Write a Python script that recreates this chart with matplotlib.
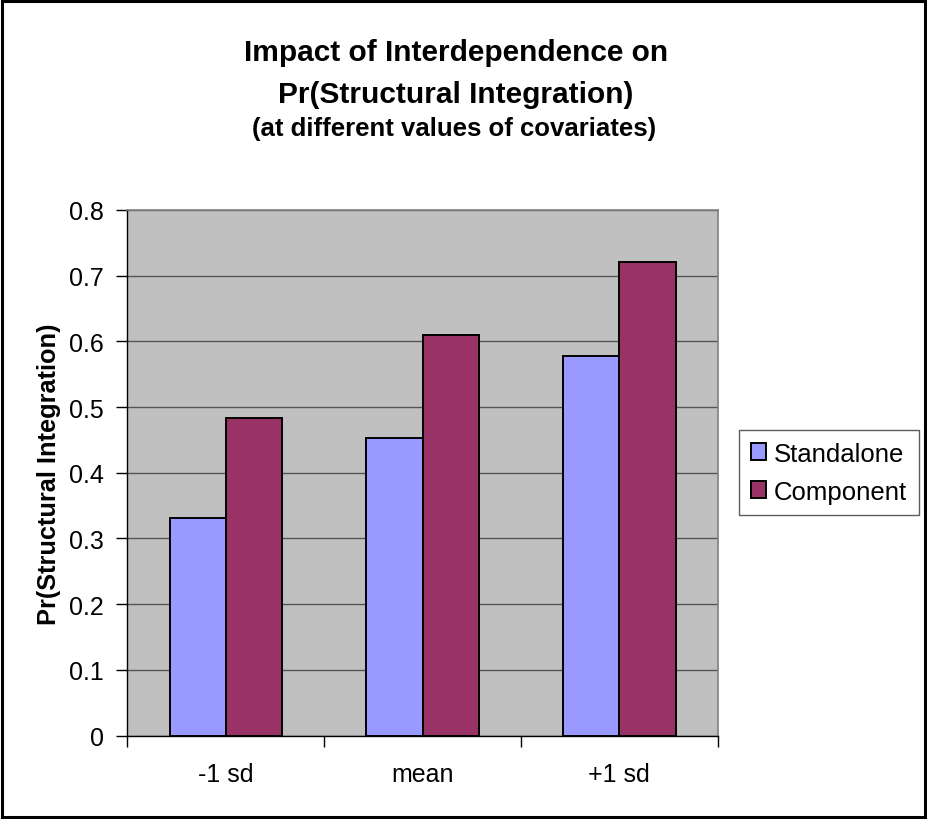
import matplotlib
matplotlib.use("Agg")
import matplotlib.pyplot as plt
from matplotlib.patches import Rectangle
import numpy as np

categories = ["-1 sd", "mean", "+1 sd"]
standalone = [0.331, 0.453, 0.578]
component = [0.484, 0.609, 0.721]
yticks = [0, 0.1, 0.2, 0.3, 0.4, 0.5, 0.6, 0.7, 0.8]
ytick_labels = ["0", "0.1", "0.2", "0.3", "0.4", "0.5", "0.6", "0.7", "0.8"]

plt.rcParams["font.family"] = ["Liberation Sans", "DejaVu Sans"]

fig = plt.figure(figsize=(9.27, 8.2), dpi=100)
fig.patch.set_facecolor("white")
fig.add_artist(Rectangle((0.002, 0.002), 0.996, 0.995, transform=fig.transFigure,
                         fill=False, edgecolor="black", linewidth=2.2))

ax = fig.add_axes([0.1375, 0.1017, 0.6367, 0.641])
ax.set_facecolor("#C0C0C0")

x = np.arange(len(categories))
w = 0.286
ax.bar(x - w / 2, standalone, w, color="#9999FF", edgecolor="black", linewidth=1.4,
       label="Standalone", zorder=3)
ax.bar(x + w / 2, component, w, color="#993366", edgecolor="black", linewidth=1.4,
       label="Component", zorder=3)

ax.set_xlim(-0.5, 2.5)
ax.set_ylim(0, 0.8)
ax.set_yticks(yticks)
ax.set_yticklabels(ytick_labels)
ax.yaxis.grid(True, color="#555555", linewidth=1.0, zorder=1)
ax.set_axisbelow(True)

# category ticks sit between groups, labels at group centres
ax.set_xticks([-0.5, 0.5, 1.5, 2.5])
ax.set_xticklabels([])
ax.set_xticks(x, minor=True)
ax.set_xticklabels(categories, minor=True)
ax.tick_params(axis="x", which="major", length=8, width=1, color="black", direction="out")
ax.tick_params(axis="x", which="minor", length=0, pad=19, labelsize=18)
ax.tick_params(axis="y", length=8, width=1, direction="out", labelsize=18, pad=9)

for s in ["top", "right"]:
    ax.spines[s].set_color("#808080")
    ax.spines[s].set_linewidth(1.2)
for s in ["left", "bottom"]:
    ax.spines[s].set_color("black")
    ax.spines[s].set_linewidth(1.0)

ax.set_ylabel("Pr(Structural Integration)", fontsize=18.3, fontweight="bold", labelpad=6)

fig.text(0.492, 0.935, "Impact of Interdependence on", ha="center", va="center",
         fontsize=21.5, fontweight="bold")
fig.text(0.492, 0.884, "Pr(Structural Integration)", ha="center", va="center",
         fontsize=21.5, fontweight="bold")
fig.text(0.490, 0.843, "(at different values of covariates)", ha="center", va="center",
         fontsize=18.5, fontweight="bold")

leg = fig.legend(loc="upper left", bbox_to_anchor=(739 / 927, 1 - 431 / 820),
                 fontsize=18.5, frameon=True, fancybox=False, edgecolor="#333333",
                 handlelength=0.62, handleheight=0.62, handletextpad=0.3,
                 borderpad=0.45, labelspacing=0.55, borderaxespad=0)
leg.get_frame().set_linewidth(1.0)

fig.savefig("out.png", dpi=100)
